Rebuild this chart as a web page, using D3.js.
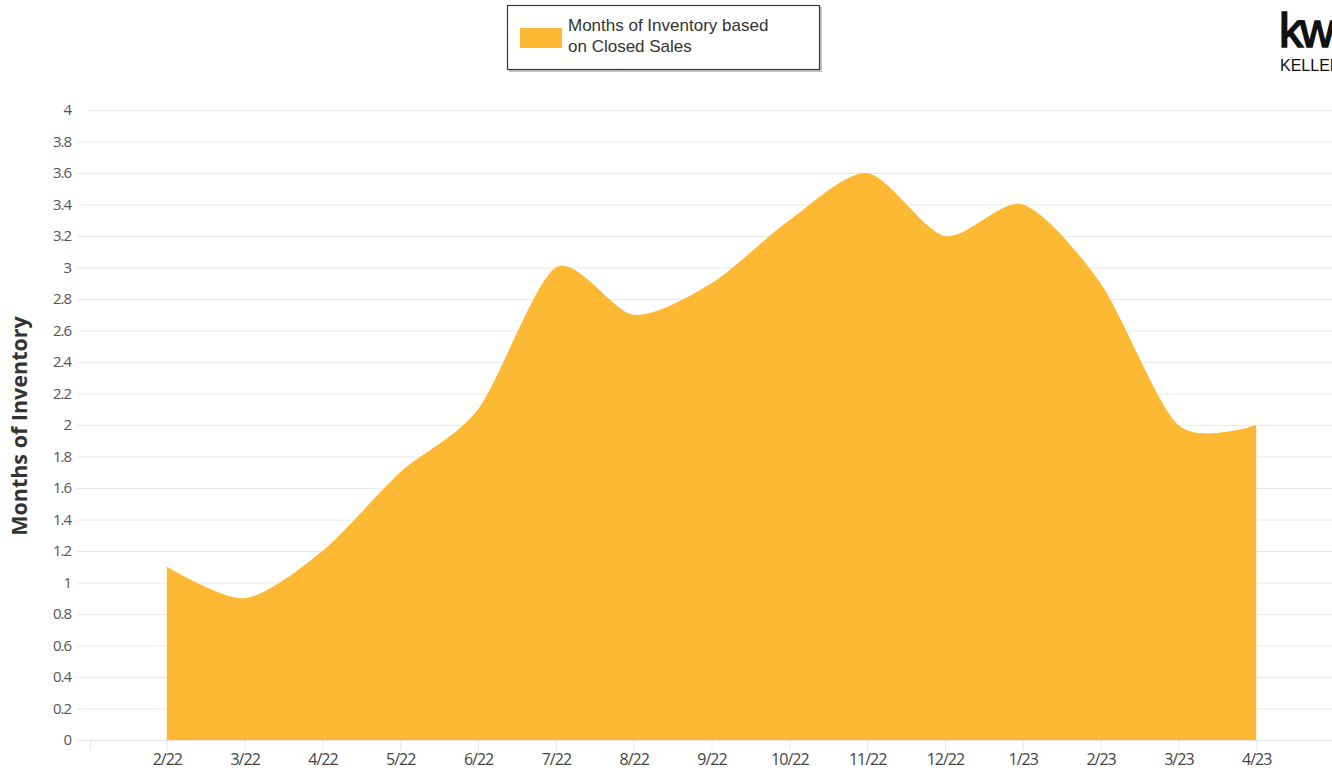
<!DOCTYPE html>
<html>
<head>
<meta charset="utf-8">
<script src="https://cdn.jsdelivr.net/npm/d3@7"></script>
<style>
  html, body { margin: 0; padding: 0; background: #fff; }
  svg { display: block; }
</style>
</head>
<body>
<svg id="chart" width="1332" height="771"></svg>
<script>
// Monthly months-of-inventory figures
const months = ["2/22","3/22","4/22","5/22","6/22","7/22","8/22","9/22","10/22","11/22","12/22","1/23","2/23","3/23","4/23"];
const inventory = [1.1, 0.9, 1.2, 1.7, 2.1, 3.0, 2.7, 2.9, 3.3, 3.6, 3.2, 3.4, 2.9, 2.0, 2.0];
const yTicks = [0,0.2,0.4,0.6,0.8,1,1.2,1.4,1.6,1.8,2,2.2,2.4,2.6,2.8,3,3.2,3.4,3.6,3.8,4];
const seriesName = ["Months of Inventory based", "on Closed Sales"];

const fillColor = "#FDB933";
const svg = d3.select("#chart");

const x = d3.scalePoint().domain(months).range([89, 1334]).padding(1);
const y = d3.scaleLinear().domain([0, 4]).range([740, 110]);

// horizontal grid
svg.append("g")
  .selectAll("line")
  .data(yTicks)
  .join("line")
  .attr("x1", d => d === 4 ? 88 : 77)
  .attr("x2", 1332)
  .attr("y1", d => y(d) + 0.5)
  .attr("y2", d => y(d) + 0.5)
  .attr("stroke", "#e8e8e8")
  .attr("stroke-width", 1);

// y tick labels
svg.append("g")
  .selectAll("text")
  .data(yTicks)
  .join("text")
  .attr("x", 71)
  .attr("y", d => y(d))
  .attr("dy", "0.35em")
  .attr("text-anchor", "end")
  .attr("font-family", "Open Sans, sans-serif")
  .attr("font-size", 15)
  .attr("fill", "#555")
  .attr("letter-spacing", "-1")
  .text(d => d3.format("")(d));

// y axis title
svg.append("text")
  .attr("transform", "translate(27,426) rotate(-90)")
  .attr("text-anchor", "middle")
  .attr("font-family", "Open Sans, sans-serif")
  .attr("font-weight", "bold")
  .attr("font-size", 21.5)
  .attr("fill", "#333")
  .text("Months of Inventory");

// area
const area = d3.area()
  .x((d, i) => x(months[i]))
  .y0(y(0))
  .y1(d => y(d))
  .curve(d3.curveCardinal.tension(0.2));

svg.append("path")
  .datum(inventory)
  .attr("d", area)
  .attr("fill", fillColor);

// x axis
const xAxis = d3.axisBottom(x).tickSize(10).tickSizeOuter(0);
const gx = svg.append("g")
  .attr("transform", `translate(0,${y(0) + 0.5})`)
  .call(xAxis);
gx.select(".domain").attr("stroke", "#e6e6e6").attr("d", "M90,0H1332");
gx.selectAll(".tick line").attr("stroke", "#e6e6e6").attr("y2", 10);
gx.selectAll(".tick text")
  .attr("y", 13)
  .attr("font-family", "Open Sans, sans-serif")
  .attr("font-size", 16)
  .attr("fill", "#444")
  .attr("letter-spacing", "-1");
// leading boundary tick
svg.append("line")
  .attr("x1", 90.5).attr("x2", 90.5)
  .attr("y1", y(0)).attr("y2", y(0) + 10)
  .attr("stroke", "#e6e6e6");

// legend
const lg = svg.append("g");
lg.append("rect")
  .attr("x", 509).attr("y", 7).attr("width", 313).attr("height", 65)
  .attr("fill", "#888").attr("opacity", 0.5);
lg.append("rect")
  .attr("x", 507.5).attr("y", 5.5).attr("width", 312).attr("height", 64)
  .attr("fill", "#fff").attr("stroke", "#2b3a42").attr("stroke-width", 1.2);
lg.append("rect")
  .attr("x", 520).attr("y", 28).attr("width", 42).attr("height", 20)
  .attr("fill", fillColor);
lg.append("text")
  .attr("x", 568).attr("y", 31)
  .attr("font-family", "Liberation Sans, Arial, sans-serif")
  .attr("font-size", 17)
  .attr("fill", "#333")
  .selectAll("tspan")
  .data(seriesName)
  .join("tspan")
  .attr("x", 568)
  .attr("dy", (d, i) => i === 0 ? 0 : 21)
  .text(d => d);

// brand mark
svg.append("text")
  .attr("x", 1279).attr("y", 47)
  .attr("font-family", "Liberation Sans, Arial, sans-serif")
  .attr("font-size", 48)
  .attr("letter-spacing", "-3")
  .attr("fill", "#111")
  .attr("stroke", "#111")
  .attr("stroke-width", 1.6)
  .text("kw");
svg.append("text")
  .attr("x", 1280).attr("y", 71)
  .attr("font-family", "Liberation Sans Narrow, Liberation Sans, Arial, sans-serif")
  .attr("font-size", 16)
  .attr("fill", "#111")
  .text("KELLER");
</script>
</body>
</html>
